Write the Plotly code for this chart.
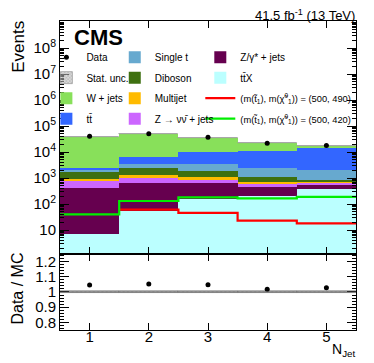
import numpy as np
import plotly.graph_objects as go
from plotly.subplots import make_subplots

# ---------------- data ----------------
n_jet = [1, 2, 3, 4, 5]
ttx = [6.8, 54, 155, 205, 390]
zgamma = [393, 576, 490, 245, 185]
znunu = [390, 440, 265, 150, 85]
multijet = [120, 190, 160, 80, 65]
diboson = [830, 1240, 790, 390, 110]
single_t = [400, 970, 1510, 1280, 1195]
ttbar = [360, 2930, 6930, 8650, 11770]
wjets = [36400, 41600, 25200, 10500, 3600]
data = [40700, 50500, 37200, 21900, 17900]
stat_rel = [0.004, 0.004, 0.005, 0.007, 0.008]
sig_500_490 = [None, 61, 46, 23, 18]
sig_500_420 = [40, 131, 182, 166, 190]

y_ticks = [10, 100, 1e3, 1e4, 1e5, 1e6, 1e7, 1e8]
y_tick_text = ["10", "10<sup>2</sup>", "10<sup>3</sup>", "10<sup>4</sup>",
               "10<sup>5</sup>", "10<sup>6</sup>", "10<sup>7</sup>", "10<sup>8</sup>"]
r_ticks = [0.8, 0.9, 1.0, 1.1, 1.2]
r_tick_text = ["0.8", "0.9", "1", "1.1", "1.2"]

# (name, values, colour, legend, rank) in stacking order bottom -> top
processes = [
    ("tt\u0304X", ttx, "#BBFFFF", "legend3", 2),
    ("Z/\u03b3* + jets", zgamma, "#66004F", "legend3", 1),
    ("Z \u2192 \u03bd\u03bd\u0304 + jets", znunu, "#CC66FF", "legend2", 4),
    ("Multijet", multijet, "#FFBB00", "legend2", 3),
    ("Diboson", diboson, "#3E7010", "legend2", 2),
    ("Single t", single_t, "#67A9CF", "legend2", 1),
    ("tt\u0304", ttbar, "#3366FF", "legend", 4),
    ("W + jets", wjets, "#88E05A", "legend", 3),
]

FONT = "Liberation Sans, Arial, sans-serif"

fig = make_subplots(rows=2, cols=1, shared_xaxes=True,
                    row_heights=[0.754, 0.246], vertical_spacing=0)

cum = np.zeros(len(n_jet))
for name, vals, col, leg, rank in processes:
    v = np.array(vals, dtype=float)
    base = None if cum.sum() == 0 else cum.copy()
    fig.add_trace(go.Bar(x=n_jet, y=v, base=base, width=1.0, name=name,
                         marker=dict(color=col, line=dict(width=0)),
                         legend=leg, legendrank=rank, legendgroup=name,
                         showlegend=True), row=1, col=1)
    cum = cum + v

total = cum
stat = np.array(stat_rel)
unc_marker = dict(color="rgba(185,185,185,0.55)", line=dict(width=0.8, color="#a0a0a0"),
                  pattern=dict(shape="x", fgcolor="#8a8a8a", size=3, solidity=0.4))
# stat. unc. band
fig.add_trace(go.Bar(x=n_jet, y=2 * total * stat, base=total * (1 - stat), width=1.0,
                     name="Stat. unc.", legend="legend", legendrank=2, legendgroup="stat",
                     marker=unc_marker), row=1, col=1)
fig.add_trace(go.Bar(x=n_jet, y=2 * stat, base=1 - stat, width=1.0, showlegend=False,
                     marker=unc_marker), row=2, col=1)

# signal step lines
sig_label = ("<span style='font-size:9.3px'>(m(t\u0303<sub>1</sub>), "
             "m(\u03c7\u0303<sup>0</sup><sub>1</sub>)) = (500, {})</span>")
edges = [c - 0.5 for c in n_jet] + [n_jet[-1] + 0.5]
fig.add_trace(go.Scatter(x=edges, y=list(sig_500_490) + [sig_500_490[-1]], mode="lines",
                         line=dict(color="#FF0000", width=2.2, shape="hv"),
                         name=sig_label.format(490),
                         legend="legend3", legendrank=3, legendgroup="s1"), row=1, col=1)
fig.add_trace(go.Scatter(x=edges, y=list(sig_500_420) + [sig_500_420[-1]], mode="lines",
                         line=dict(color="#00EE00", width=2.2, shape="hv"),
                         name=sig_label.format(420),
                         legend="legend3", legendrank=4, legendgroup="s2"), row=1, col=1)

# data
fig.add_trace(go.Scatter(x=n_jet, y=data, mode="markers", name="Data",
                         marker=dict(color="black", size=5),
                         legend="legend", legendrank=1, legendgroup="data"), row=1, col=1)
ratio = np.array(data) / total
fig.add_trace(go.Scatter(x=n_jet, y=ratio, mode="markers", showlegend=False,
                         marker=dict(color="black", size=5)), row=2, col=1)

fig.add_hline(y=1, line=dict(color="#555555", width=1), row=2, col=1)

axis_common = dict(showline=True, linecolor="black", linewidth=1, mirror="allticks",
                   ticks="inside", tickcolor="black", showgrid=False, zeroline=False)

fig.update_xaxes(range=[0.5, 5.5], tickvals=n_jet, ticklen=7, **axis_common)
fig.update_xaxes(showticklabels=False, row=1, col=1)
fig.update_xaxes(tickfont=dict(size=15), ticklabelstandoff=-7, row=2, col=1)

fig.update_yaxes(type="log", range=[0.08, 9.04], tickvals=y_ticks, ticktext=y_tick_text,
                 ticklen=9, tickfont=dict(size=15),
                 minor=dict(ticks="inside", ticklen=4, tickcolor="black", dtick="D1",
                            showgrid=False),
                 row=1, col=1, **axis_common)
fig.update_yaxes(range=[0.75, 1.25], tickvals=r_ticks, ticktext=r_tick_text,
                 ticklen=9, tickfont=dict(size=15),
                 minor=dict(ticks="inside", ticklen=4, tickcolor="black", dtick=0.02,
                            showgrid=False),
                 row=2, col=1, **axis_common)

legend_common = dict(bgcolor="rgba(0,0,0,0)", font=dict(size=10, family=FONT),
                     borderwidth=0, traceorder="grouped", tracegroupgap=1.5,
                     itemwidth=30, yanchor="top", xanchor="left", y=0.93)

# the page body adds an 8px offset, so the figure is sized 366x355
fig.update_layout(
    width=366, height=355,
    margin=dict(l=52, r=18, t=13, b=33, autoexpand=False),
    paper_bgcolor="white", plot_bgcolor="white",
    barmode="overlay", bargap=0,
    font=dict(family=FONT, color="black"),
    legend=dict(x=-0.046, **legend_common),
    legend2=dict(x=0.185, **legend_common),
    legend3=dict(x=0.474, **legend_common),
    annotations=[
        dict(text="<b>CMS</b>", x=0.04, y=0.995, xref="paper", yref="paper",
             xanchor="left", yanchor="top", showarrow=False, font=dict(size=22)),
        dict(text="41.5 fb<sup>-1</sup> (13 TeV)", x=1.0, y=1.018, xref="paper",
             yref="paper", xanchor="right", yanchor="middle", showarrow=False,
             borderpad=0, font=dict(size=13)),
        dict(text="Events", x=-0.143, y=1.003, xref="paper", yref="paper",
             xanchor="center", yanchor="top", textangle=-90, showarrow=False,
             borderpad=0, font=dict(size=17)),
        dict(text="Data / MC", x=-0.143, y=0.133, xref="paper", yref="paper",
             xanchor="center", yanchor="middle", textangle=-90, showarrow=False,
             borderpad=0, font=dict(size=16)),
        dict(text="N<sub>Jet</sub>", x=1.003, y=-0.066, xref="paper", yref="paper",
             xanchor="right", yanchor="middle", showarrow=False, font=dict(size=14)),
    ],
)

fig.write_html("out.html")
